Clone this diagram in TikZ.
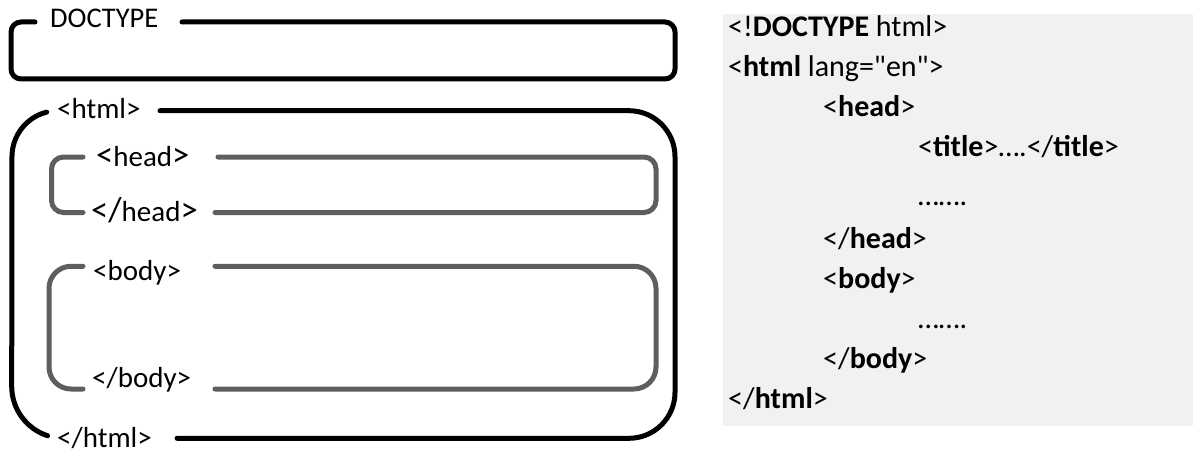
\documentclass[tikz,border=0pt]{standalone}
\usepackage{fontspec}
\setmainfont{Carlito}[Ligatures=TeXOff]
\definecolor{framegray}{HTML}{5E5E5E}
\definecolor{panelbg}{HTML}{F1F1F1}
\newcommand\bigbr[1]{{\fontsize{34.5}{36}\selectfont #1}}
\begin{document}
\begin{tikzpicture}[x=1pt,y=1pt,
  outer/.style={draw=black,line width=5pt,line cap=round},
  inner/.style={draw=framegray,line width=5pt,line cap=round},
  lbl/.style={anchor=base west,inner sep=0pt,font=\fontsize{29}{32}\selectfont},
  code/.style={anchor=base west,inner sep=0pt,font=\fontsize{30}{34}\selectfont}]
\useasboundingbox (0,0) rectangle (1193,448);

% DOCTYPE frame
\draw[outer,rounded corners=10] (182,426) -| (675,369) -| (11,426) -- (35,426);
\node[lbl,font=\fontsize{28.5}{32}\selectfont] (doctype) at (50,420) {DOCTYPE};

% html frame: right part with round corners, left part as open arcs
\draw[outer,rounded corners=46] (160,337.3) -| (675,9.7) -- (177,9.7);
\draw[outer] (46.7,335.9) arc[start angle=104.2,end angle=180,radius=46]
  -- (11.7,61.7) arc[start angle=180,end angle=252,radius=52];
\node[lbl] (htmlopen) at (57,330) {<html>};
\node[lbl] (htmlclose) at (57,0.5) {</html>};

% head frame
\draw[inner,rounded corners=12] (218,291) -| (656,235.5) -- (215,235.5);
\draw[inner,rounded corners=12] (83,235.5) -| (51.5,291) -- (83,291);
\node[lbl] (headopen) at (96,282) {\bigbr{<}head\bigbr{>}};
\node[lbl] (headclose) at (91,227) {\bigbr{</}head\bigbr{>}};

% body frame
\draw[inner,rounded corners=22] (215,181.7) -| (656,59) -- (215,59);
\draw[inner,rounded corners=22] (83,59) -| (49,181.7) -- (83,181.7);
\node[lbl] (bodyopen) at (93,168) {<body>};
\node[lbl] (bodyclose) at (92,60.5) {</body>};

% source listing
\fill[panelbg] (723,22) rectangle (1193,434);
\node[code] (l1) at (728,411) {<!\textbf{DOCTYPE} html>};
\node[code] (l2) at (728,371) {<\textbf{html} lang="en">};
\node[code] (l3) at (823,331) {<\textbf{head}>};
\node[code] (l4) at (918,291) {<\textbf{title}>….</\textbf{title}>};
\node[code] (l5) at (918,243) {…….};
\node[code] (l6) at (823,200) {</\textbf{head}>};
\node[code] (l7) at (823,160) {<\textbf{body}>};
\node[code] (l8) at (918,120) {…….};
\node[code] (l9) at (823,80) {</\textbf{body}>};
\node[code] (l10) at (728,40) {</\textbf{html}>};
\end{tikzpicture}
\end{document}
